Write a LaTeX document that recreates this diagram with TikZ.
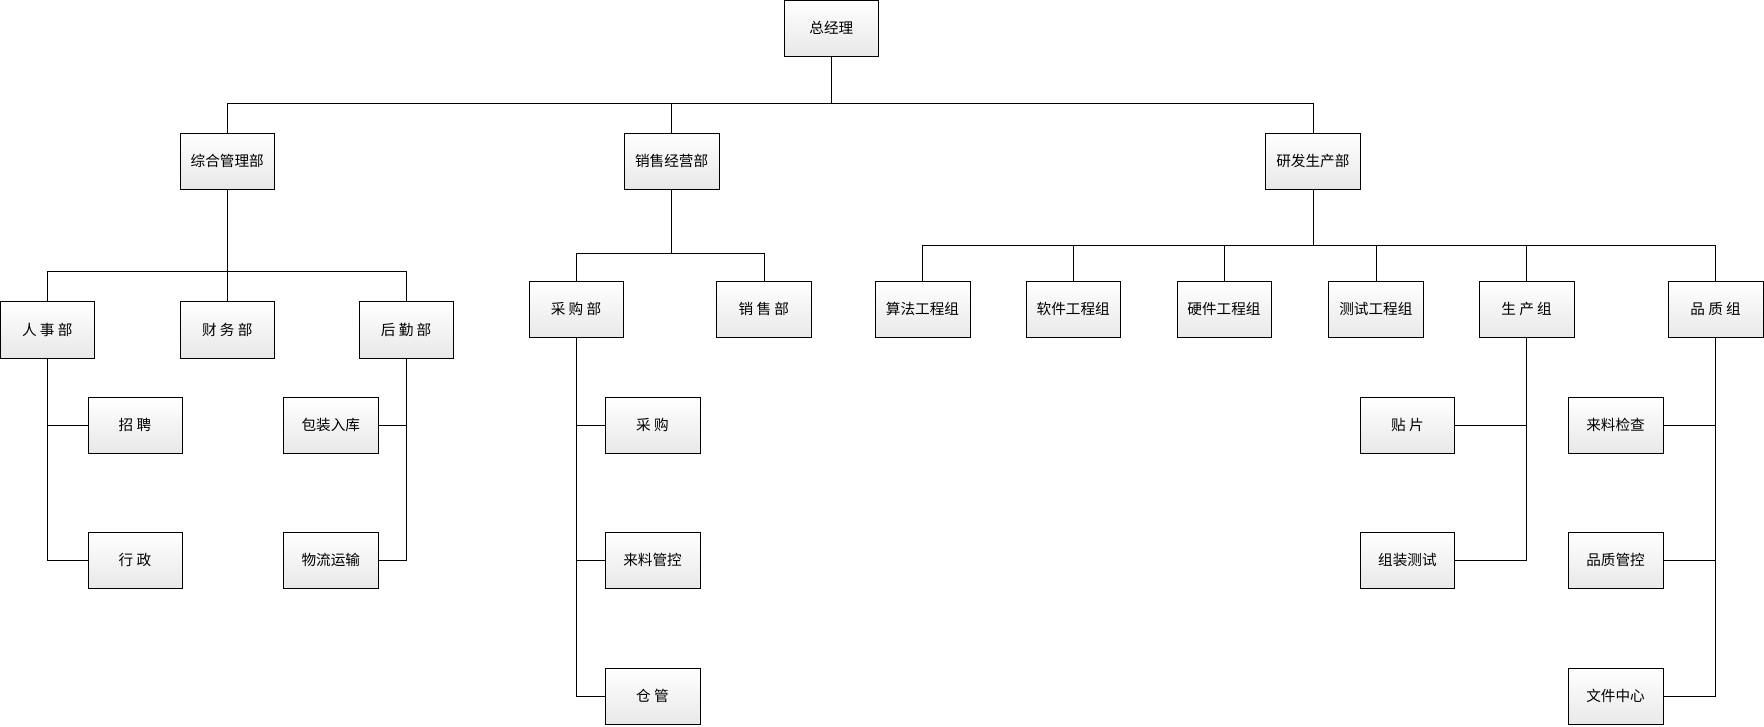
\documentclass[tikz,border=0pt]{standalone}
\usepackage{fontspec}
\setmainfont{Noto Sans CJK SC}
\begin{document}
\begin{tikzpicture}[x=1pt,y=-1pt,
  box/.style={draw, minimum width=84pt, minimum height=50pt, inner sep=0pt,
    top color=white, bottom color=gray!18, font=\fontsize{13}{15}\selectfont},
  link/.style={draw, line width=0.6pt}]
  \useasboundingbox (0,0) rectangle (1568,646);
  % top and departments
  \node[box] (gm) at (739,25) {总经理};
  \node[box] (zh) at (202,143) {综合管理部};
  \node[box] (xs) at (597,143) {销售经营部};
  \node[box] (yf) at (1167,143) {研发生产部};
  % 综合管理部
  \node[box] (rs) at (42,293) {人 事 部};
  \node[box] (cw) at (202,293) {财 务 部};
  \node[box] (hq) at (361,293) {后 勤 部};
  \node[box] (zp) at (120,378) {招 聘};
  \node[box] (xz) at (120,498) {行 政};
  \node[box] (bz) at (294,378) {包装入库};
  \node[box] (wl) at (294,498) {物流运输};
  % 销售经营部
  \node[box] (cgb) at (512,275) {采 购 部};
  \node[box] (xsb) at (679,275) {销 售 部};
  \node[box] (cg) at (580,378) {采 购};
  \node[box] (llgk) at (580,498) {来料管控};
  \node[box] (cang) at (580,619) {仓 管};
  % 研发生产部
  \node[box] (sf) at (820,275) {算法工程组};
  \node[box] (rj) at (954,275) {软件工程组};
  \node[box] (yj) at (1088,275) {硬件工程组};
  \node[box] (cs) at (1223,275) {测试工程组};
  \node[box] (sc) at (1357,275) {生 产 组};
  \node[box] (pz) at (1525,275) {品 质 组};
  \node[box] (tp) at (1251,378) {贴 片};
  \node[box] (zz) at (1251,498) {组装测试};
  \node[box] (lljc) at (1436,378) {来料检查};
  \node[box] (pzgk) at (1436,498) {品质管控};
  \node[box] (wj) at (1436,619) {文件中心};

  % buses
  \foreach \c in {zh,xs,yf} \draw[link] (gm.south) -- ++(0,42) -| (\c.north);
  \foreach \c in {rs,cw,hq} \draw[link] (zh.south) -- ++(0,73) -| (\c.north);
  \foreach \c in {cgb,xsb} \draw[link] (xs.south) -- ++(0,57) -| (\c.north);
  \foreach \c in {sf,rj,yj,cs,sc,pz} \draw[link] (yf.south) -- ++(0,50) -| (\c.north);
  % side branches
  \foreach \c in {zp,xz} \draw[link] (rs.south) |- (\c.west);
  \foreach \c in {bz,wl} \draw[link] (hq.south) |- (\c.east);
  \foreach \c in {cg,llgk,cang} \draw[link] (cgb.south) |- (\c.west);
  \foreach \c in {tp,zz} \draw[link] (sc.south) |- (\c.east);
  \foreach \c in {lljc,pzgk,wj} \draw[link] (pz.south) |- (\c.east);
\end{tikzpicture}
\end{document}
